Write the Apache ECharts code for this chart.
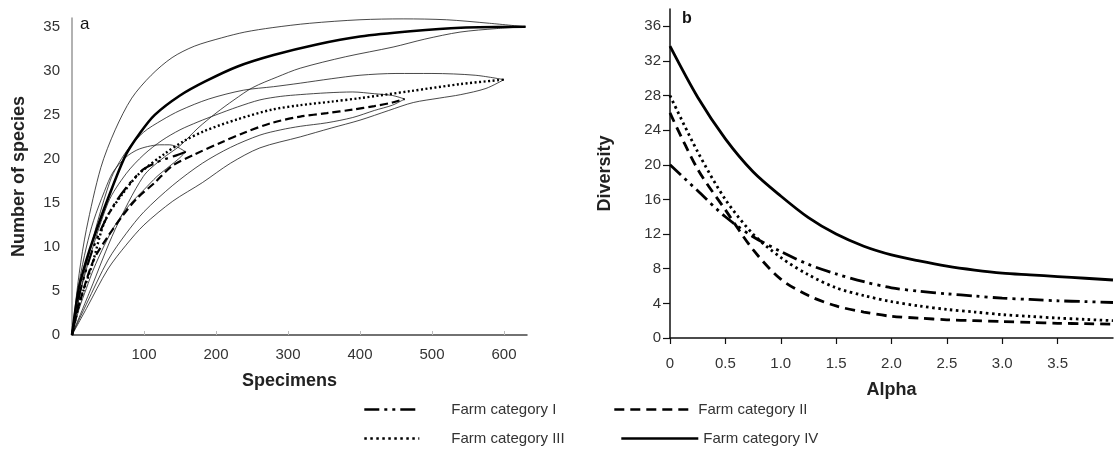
<!DOCTYPE html>
<html><head><meta charset="utf-8">
<script src="https://cdn.jsdelivr.net/npm/echarts@6/dist/echarts.min.js"></script>
<style>html,body{margin:0;padding:0;background:#fff}#c{width:1115px;height:457px}</style>
</head><body><div id="c"></div>
<script>
// ---------- Panel a: rarefaction curves (specimens -> species) ----------
const catNames = ['Farm category I','Farm category II','Farm category III','Farm category IV'];

const specI      = [0,10,20,30,45,60,80,99,115,130,145,158];
const sppI       = [0,4.5,7.5,10,12.8,15,17.2,18.8,19.5,20,20.4,20.8];
const specIup    = [0,10,20,30,45,57,75,90,105,122,135,145,158];
const sppIup     = [0,6,10,13,16.3,18.5,20.2,21,21.4,21.6,21.6,21.4,20.8];
const specIlo    = [0,10,20,30,45,60,80,100,118,136,148,158];
const sppIlo     = [0,3,5.3,7.5,10.2,12.5,14.8,16.5,18,19.2,20,20.8];

const specII     = [0,10,30,50,69,90,115,139,170,208,240,278,317,354,390,420,445,462];
const sppII      = [0,3.5,8.5,11.2,13.4,15.5,17.3,19.2,20.5,21.9,23,24.1,24.8,25.2,25.6,26,26.4,26.8];
const specIIup   = [0,15,50,75,100,125,150,175,200,230,261,290,317,354,390,420,445,462];
const sppIIup    = [0,6,15,18.3,20.5,22.1,23.3,24.2,25,25.9,26.7,27.1,27.3,27.5,27.6,27.4,27.2,26.8];
const specIIlo   = [0,20,50,75,100,140,181,220,261,290,317,354,390,420,445,462];
const sppIIlo    = [0,3.5,8.5,11.5,14,17,19.5,21.3,22.7,23.3,23.7,24.1,24.7,25.5,26.1,26.8];

const specIII    = [0,10,28,46,70,93,129,155,185,230,278,317,360,400,470,540,600];
const sppIII     = [0,3.5,8,13,16,18.3,20.6,22,23.2,24.5,25.6,26.1,26.5,26.9,27.7,28.5,29];
const specIIIup  = [0,20,53,75,99,125,150,190,238,280,317,360,400,450,500,560,600];
const sppIIIup   = [0,8,17.5,20.8,23,24.4,25.5,26.8,27.8,28.2,28.6,29.1,29.5,29.7,29.7,29.5,29];
const specIIIlo  = [0,20,50,75,100,140,181,220,261,317,360,400,440,474,510,540,575,600];
const sppIIIlo   = [0,3,7.5,10.2,12.5,15.2,17.3,19.5,21.25,22.5,23.5,24.4,25.5,26.4,26.9,27.3,28,29];

const specIV     = [0,5,10,20,30,50,75,95,115,150,185,230,280,340,400,470,540,630];
const sppIV      = [0,3,5.5,8.5,11,15.5,20.5,23,25,27.2,28.8,30.5,31.8,33,33.9,34.5,34.9,35];
const specIVup   = [0,10,20,40,60,83,110,139,170,208,240,278,330,400,460,520,580,630];
const sppIVup    = [0,7,12,19,23.3,26.9,29.5,31.5,32.8,33.75,34.4,34.9,35.4,35.8,35.9,35.8,35.4,35];
const specIVlo   = [0,25,60,99,125,150,175,200,225,251,285,317,380,446,490,539,590,630];
const sppIVlo    = [0,5,12,18,20,21.5,23.5,25.2,26.7,28.1,29.3,30.3,31.6,32.7,33.6,34.4,34.8,35];

// ---------- Panel b: diversity profiles ----------
const alpha  = [0,0.25,0.5,0.75,1,1.25,1.5,1.75,2,2.25,2.5,2.75,3,3.25,3.5,3.75,4];
const divI   = [20,17,14,11.7,10,8.5,7.4,6.5,5.8,5.4,5.1,4.85,4.6,4.45,4.3,4.2,4.1];
const divII  = [26,19.5,14.8,10.2,6.8,4.9,3.7,3.0,2.5,2.3,2.1,2.0,1.9,1.8,1.7,1.65,1.6];
const divIII = [28,21.5,16,12,9.3,7.3,5.8,4.9,4.2,3.7,3.3,3.0,2.7,2.5,2.3,2.15,2.0];
const divIV  = [33.7,27.8,23,19.2,16.4,13.9,12,10.6,9.6,8.9,8.3,7.85,7.5,7.3,7.1,6.9,6.7];

// ---------- tick labels ----------
const ticksAx = [100,200,300,400,500,600];
const ticksAy = [0,5,10,15,20,25,30,35];
const ticksBx = [0,0.5,1,1.5,2,2.5,3,3.5];
const ticksBy = [0,4,8,12,16,20,24,28,32,36];

const zip = (xs, ys) => xs.map((x, i) => [x, ys[i]]);
const FONT = 'Liberation Sans';
const dashI = [15,5,3,5,3,5];
const dashII = [10,6];
const dotIII = [2.5,3.5];

const meanStyle = [
  {type: dashI, width: 2.2},
  {type: [8,4], width: 2.2},
  {type: [2,2.5], width: 2.4},
  {type: 'solid', width: 2.6}
];
const bStyle = [
  {type: dashI, width: 2.8},
  {type: dashII, width: 2.8},
  {type: dotIII, width: 2.8},
  {type: 'solid', width: 2.8}
];

function line(name, data, ls, xi, yi, z) {
  return {name, type: 'line', xAxisIndex: xi, yAxisIndex: yi, data, smooth: 0.3,
    symbol: 'none', showSymbol: false, silent: true, z: z || 2,
    itemStyle: {color: '#000'},
    lineStyle: Object.assign({color: '#000', cap: 'butt'}, ls)};
}
const thin = {type: 'solid', width: 0.8, color: '#1a1a1a'};

const series = [
  line('ci', zip(specIup, sppIup), thin, 0, 0, 1),
  line('ci', zip(specIlo, sppIlo), thin, 0, 0, 1),
  line('ci', zip(specIIup, sppIIup), thin, 0, 0, 1),
  line('ci', zip(specIIlo, sppIIlo), thin, 0, 0, 1),
  line('ci', zip(specIIIup, sppIIIup), thin, 0, 0, 1),
  line('ci', zip(specIIIlo, sppIIIlo), thin, 0, 0, 1),
  line('ci', zip(specIVup, sppIVup), thin, 0, 0, 1),
  line('ci', zip(specIVlo, sppIVlo), thin, 0, 0, 1),
  line(catNames[0], zip(specI, sppI), meanStyle[0], 0, 0, 3),
  line(catNames[1], zip(specII, sppII), meanStyle[1], 0, 0, 3),
  line(catNames[2], zip(specIII, sppIII), meanStyle[2], 0, 0, 3),
  line(catNames[3], zip(specIV, sppIV), meanStyle[3], 0, 0, 3),
  line(catNames[0], zip(alpha, divI), bStyle[0], 1, 1, 3),
  line(catNames[1], zip(alpha, divII), bStyle[1], 1, 1, 3),
  line(catNames[2], zip(alpha, divIII), bStyle[2], 1, 1, 3),
  line(catNames[3], zip(alpha, divIV), bStyle[3], 1, 1, 3)
];

function legendItem(name, left, top, w, pad, ls) {
  return {data: [name], left, top, orient: 'horizontal', padding: 0,
    itemWidth: w, itemHeight: 14, selectedMode: false,
    itemStyle: {opacity: 0},
    lineStyle: {width: 2.6, type: ls.type, color: '#000'},
    textStyle: {fontFamily: FONT, fontSize: 15, color: '#333', padding: [0,0,0,pad]}};
}

const nameStyle = {fontFamily: FONT, fontSize: 18, fontWeight: 'bold', color: '#222'};

const chart = echarts.init(document.getElementById('c'), null, {renderer: 'canvas'});
chart.setOption({
  animation: false,
  backgroundColor: '#fff',
  title: [
    {text: 'a', left: 80, top: 16, padding: 0, textStyle: {fontFamily: FONT, fontSize: 17, fontWeight: 'normal', color: '#111'}},
    {text: 'b', left: 682, top: 11, padding: 0, textStyle: {fontFamily: FONT, fontSize: 16, fontWeight: 'bold', color: '#111'}}
  ],
  legend: [
    legendItem(catNames[0], 363, 402, 55, 27, bStyle[0]),
    legendItem(catNames[1], 613, 402, 77, 2, bStyle[1]),
    legendItem(catNames[2], 363, 431, 55, 27, bStyle[2]),
    legendItem(catNames[3], 620, 431, 77, 0, bStyle[3])
  ],
  grid: [
    {left: 72, top: 18, width: 455, height: 317, containLabel: false},
    {left: 670, top: 9, width: 443, height: 329, containLabel: false}
  ],
  xAxis: [
    {type: 'value', gridIndex: 0, min: 0, max: 632, interval: 100,
     name: 'Specimens', nameLocation: 'middle', nameGap: 37,
     nameTextStyle: Object.assign({padding: [0, 20, 0, 0]}, nameStyle),
     axisLine: {show: true, onZero: false, lineStyle: {color: '#444', width: 1.5}},
     axisTick: {show: true, inside: true, length: 4, customValues: ticksAx, lineStyle: {color: '#bbb'}},
     splitLine: {show: false},
     axisLabel: {fontFamily: FONT, fontSize: 15, color: '#333', margin: 12, customValues: ticksAx}},
    {type: 'value', gridIndex: 1, min: 0, max: 4, interval: 0.5,
     name: 'Alpha', nameLocation: 'middle', nameGap: 43,
     nameTextStyle: nameStyle,
     axisLine: {show: true, onZero: false, lineStyle: {color: '#111', width: 1.5}},
     axisTick: {show: true, inside: false, length: 6, customValues: ticksBx, lineStyle: {color: '#111', width: 1.2}},
     splitLine: {show: false},
     axisLabel: {fontFamily: FONT, fontSize: 15, color: '#333', margin: 18, customValues: ticksBx,
       formatter: v => (v === 0 ? '0' : Number(v).toFixed(1))}}
  ],
  yAxis: [
    {type: 'value', gridIndex: 0, min: 0, max: 36, interval: 5,
     name: 'Number of species', nameLocation: 'middle', nameGap: 44,
     nameTextStyle: nameStyle,
     axisLine: {show: true, onZero: false, lineStyle: {color: '#999', width: 1.5}},
     axisTick: {show: false},
     splitLine: {show: false},
     axisLabel: {fontFamily: FONT, fontSize: 15, color: '#333', margin: 12, customValues: ticksAy}},
    {type: 'value', gridIndex: 1, min: 0, max: 38, interval: 4,
     name: 'Diversity', nameLocation: 'middle', nameGap: 56,
     nameTextStyle: nameStyle,
     axisLine: {show: true, onZero: false, lineStyle: {color: '#111', width: 1.5}},
     axisTick: {show: true, inside: false, length: 7, customValues: ticksBy, lineStyle: {color: '#111', width: 1.2}},
     splitLine: {show: false},
     axisLabel: {fontFamily: FONT, fontSize: 15, color: '#333', margin: 9, customValues: ticksBy}}
  ],
  series
});
</script></body></html>
